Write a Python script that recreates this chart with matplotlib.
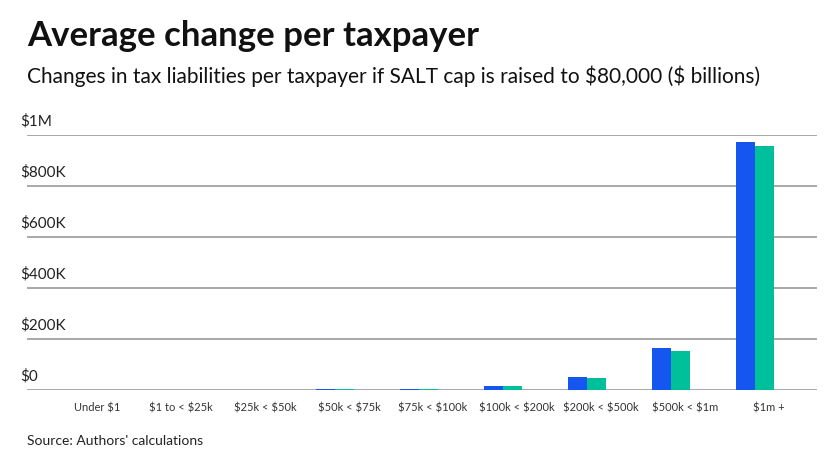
import matplotlib
matplotlib.use('Agg')

import numpy as np
import matplotlib.pyplot as plt
from matplotlib.transforms import ScaledTranslation, blended_transform_factory

plt.rcParams['font.family'] = ['Lato', 'DejaVu Sans']
plt.rcParams['text.parse_math'] = False  # dollar signs are plain text here

# data (dollars per taxpayer)
brackets = ["Under $1", "$1 to < $25k", "$25k < $50k", "$50k < $75k", "$75k < $100k",
            "$100k < $200k", "$200k < $500k", "$500k < $1m", "$1m +"]
series_a = [1500, 200, 500, 2500, 5000, 15500, 49500, 163000, 972000]
series_b = [1400, 200, 500, 2300, 4600, 14500, 46000, 154000, 957000]
yticks = [0, 200000, 400000, 600000, 800000, 1000000]
ytick_labels = ["$0", "$200K", "$400K", "$600K", "$800K", "$1M"]

BLUE = "#1656f0"
TEAL = "#00c09b"

fig = plt.figure(figsize=(8.4, 4.72), dpi=100)
ax = fig.add_axes([27 / 840, 1 - 390 / 472, 790 / 840, 255 / 472])

x = np.arange(len(brackets))
w = 0.228
ax.bar(x - w / 2, series_a, width=w, color=BLUE, zorder=3)
ax.bar(x + w / 2, series_b, width=w, color=TEAL, zorder=3)

ax.set_xlim(-0.67, 8.74)
ax.set_ylim(0, 1000000)

for s in ax.spines.values():
    s.set_visible(False)

ax.set_yticks(yticks)
ax.set_yticklabels([])
ax.tick_params(axis='y', length=0)
ax.grid(axis='y', color='#9a9a9a', linewidth=1.2, zorder=0)

trans = blended_transform_factory(ax.transAxes, ax.transData)
for v, lab in zip(yticks, ytick_labels):
    ax.annotate(lab, xy=(0, v), xycoords=trans, xytext=(-5, 5), textcoords='offset points',
                ha='left', va='bottom', fontsize=11, color='#222222')

ax.set_xticks(x)
ax.set_xticklabels(brackets, fontsize=8, color='#333333')
ax.tick_params(axis='x', length=0, pad=9)
shift = ScaledTranslation(14 / 100, 0, fig.dpi_scale_trans)
for lab in ax.get_xticklabels():
    lab.set_transform(lab.get_transform() + shift)

fig.text(27 / 840, 1 - 46 / 472, "Average change per taxpayer", fontsize=25, fontweight='bold',
         color='#111111', ha='left', va='baseline')
fig.text(27 / 840, 1 - 83 / 472,
         "Changes in tax liabilities per taxpayer if SALT cap is raised to $80,000 ($ billions)",
         fontsize=15, color='#111111', ha='left', va='baseline')
fig.text(27 / 840, 1 - 445 / 472, "Source: Authors' calculations", fontsize=10,
         color='#222222', ha='left', va='baseline')

fig.savefig("out.png", dpi=100)
